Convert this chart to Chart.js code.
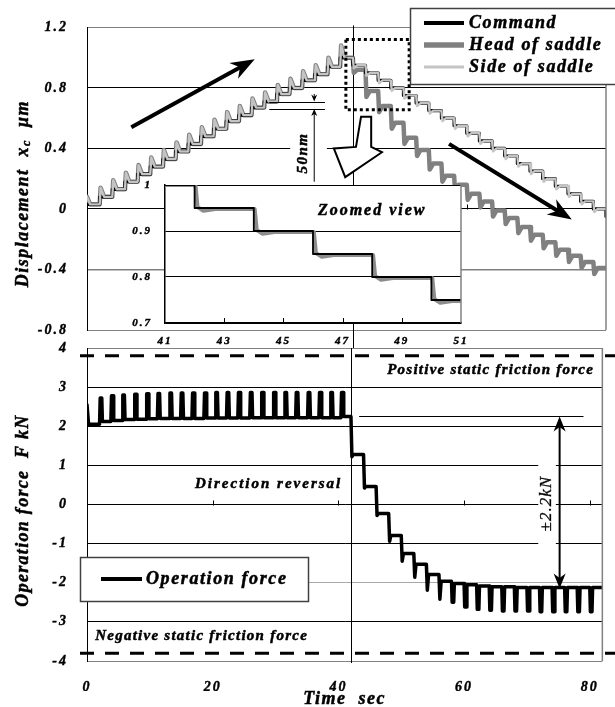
<!DOCTYPE html>
<html>
<head>
<meta charset="utf-8">
<script src="https://cdn.jsdelivr.net/npm/chart.js@4.4.0/dist/chart.umd.min.js"></script>
<style>
  html, body { margin: 0; padding: 0; background: #fff; }
  #wrap { position: relative; width: 615px; height: 707px; }
  #wrap canvas { position: absolute; left: 0; top: 0; }
</style>
</head>
<body>
<div id="wrap">
  <canvas id="disp_chart" width="615" height="707"></canvas>
  <canvas id="force_chart" width="615" height="707"></canvas>
  <canvas id="zoom_chart" width="615" height="707"></canvas>
</div>
<script>
/*-------- DATA --------*/

// top panel: displacement, one command step every 2 s
const step_times = [0,2,4,6,8,10,12,14,16,18,20,22,24,26,28,30,32,34,36,38,40,42,44,46,48,50,52,54,56,58,60,62,64,66,68,70,72,74,76,78,80,82];
const command_levels = [0.03,0.08,0.13,0.18,0.23,0.28,0.33,0.38,0.43,0.48,0.53,0.58,0.62,0.67,0.71,0.76,0.80,0.85,0.89,0.94,1.00,
  0.95,0.90,0.85,0.80,0.75,0.70,0.65,0.60,0.55,0.50,0.45,0.40,0.35,0.30,0.25,0.20,0.15,0.10,0.05,0.00,-0.05];
const head_levels = [0.03,0.08,0.13,0.18,0.23,0.28,0.33,0.38,0.43,0.48,0.53,0.58,0.62,0.67,0.71,0.76,0.80,0.85,0.89,0.94,1.00,
  0.92,0.78,0.68,0.57,0.47,0.39,0.30,0.22,0.16,0.10,0.05,-0.01,-0.06,-0.12,-0.17,-0.22,-0.27,-0.31,-0.35,-0.39,-0.43];
const head_peaks = [0.08,0.14,0.19,0.24,0.29,0.34,0.39,0.44,0.49,0.54,0.59,0.64,0.68,0.73,0.77,0.82,0.86,0.91,0.95,1.00,1.08,
  0.90,0.74,0.64,0.53,0.43,0.35,0.26,0.18,0.12,0.06,0.01,-0.05,-0.10,-0.16,-0.21,-0.26,-0.31,-0.35,-0.39,-0.43,-0.47];
const side_levels = [0.03,0.08,0.13,0.18,0.23,0.28,0.33,0.38,0.43,0.48,0.53,0.58,0.62,0.67,0.71,0.76,0.80,0.85,0.89,0.94,1.00,
  0.95,0.90,0.85,0.80,0.75,0.70,0.65,0.60,0.55,0.50,0.45,0.40,0.35,0.30,0.25,0.20,0.15,0.10,0.05,0.00,-0.05];
const side_peaks = [0.08,0.14,0.19,0.24,0.29,0.34,0.39,0.44,0.49,0.54,0.59,0.64,0.68,0.73,0.77,0.82,0.86,0.91,0.95,1.00,1.08,
  0.93,0.88,0.83,0.78,0.73,0.68,0.63,0.58,0.53,0.48,0.43,0.38,0.33,0.28,0.23,0.18,0.13,0.08,0.03,-0.02,-0.07];
const disp_ticks = [-0.8,-0.4,0,0.4,0.8,1.2];

// zoomed view
const zoom_times = [41,42,44,46,48,50,51];
const zoom_command = [1.00,0.95,0.90,0.85,0.80,0.75,0.75];
const zoom_side = [1.00,0.948,0.898,0.848,0.798,0.748,0.748];
const zoom_x_ticks = [41,43,45,47,49,51];
const zoom_y_ticks = [0.7,0.8,0.9,1];

// bottom panel: operation force
const push_times = [0,2.0,3.8,5.6,7.5,9.4,11.2,13.1,14.9,16.7,18.6,20.4,22.2,24.0,25.9,27.7,29.6,31.4,33.2,35.1,36.9,38.7,40.4];
const push_tops = [2.55,2.72,2.78,2.80,2.82,2.83,2.84,2.85,2.85,2.85,2.85,2.86,2.86,2.86,2.86,2.86,2.86,2.86,2.86,2.86,2.86,2.86,2.86];
const push_base = [2.05,2.12,2.15,2.17,2.18,2.19,2.20,2.20,2.20,2.20,2.21,2.21,2.21,2.21,2.22,2.22,2.22,2.22,2.22,2.22,2.22,2.22,2.25];
const ramp_times = [42,44,46,48,50,52,54,56];
const ramp_dips = [1.22,0.42,-0.28,-0.94,-1.45,-1.86,-2.19,-2.42];
const ramp_levels = [1.28,0.46,-0.23,-0.79,-1.25,-1.53,-1.79,-1.96];
const pull_times = [58,60,62,64,66,68,70,72,74,76,78,80,82];
const pull_bottoms = [-2.50,-2.62,-2.68,-2.70,-2.72,-2.72,-2.72,-2.74,-2.74,-2.74,-2.74,-2.74,-2.74];
const pull_base = [-2.02,-2.05,-2.08,-2.10,-2.10,-2.12,-2.12,-2.12,-2.12,-2.12,-2.12,-2.12,-2.12];
const force_ticks = [-4,-3,-2,-1,0,1,2,3,4];
const time_ticks = [0,20,40,60,80];

// annotations (data units)
const reversal_time = 42;
const static_friction = 3.8;
const force_band = [2.25, -2.15];

/*-------- styles --------*/
const serif_bi = (size) => `italic bold ${size}px "Liberation Serif", "Times New Roman", serif`;
const tick_font = { family: '"Liberation Serif", serif', style: 'italic', weight: 'bold', size: 14 };
const command_style = { color: '#000000', width: 3.2 };
const head_style = { color: '#808080', width: 4.5 };
const side_style = { color: '#c4c4c4', width: 2.4 };

/*-------- helpers --------*/
// staircase with the overshoot right after each step
function step_series(times, levels, peaks) {
  const pts = [{ x: times[0], y: peaks[0] }, { x: times[0] + 0.5, y: levels[0] }];
  for (let i = 1; i < times.length; i++) {
    pts.push({ x: times[i], y: levels[i - 1] });
    pts.push({ x: times[i] + 0.15, y: peaks[i] });
    pts.push({ x: times[i] + 0.7, y: levels[i] });
  }
  return pts;
}

function plain_steps(times, levels) {
  const pts = [{ x: times[0], y: levels[0] }];
  for (let i = 1; i < times.length; i++) {
    pts.push({ x: times[i], y: levels[i - 1] }, { x: times[i], y: levels[i] });
  }
  return pts;
}

function lag_steps(times, levels) {
  const pts = [{ x: times[0], y: levels[0] }];
  for (let i = 1; i < times.length - 1; i++) {
    pts.push({ x: times[i] + 0.03, y: levels[i - 1] });
    pts.push({ x: times[i] + 0.1, y: levels[i] + 0.004 });
    pts.push({ x: times[i] + 0.3, y: levels[i] - 0.004 });
    pts.push({ x: times[i] + 0.7, y: levels[i] });
  }
  pts.push({ x: times[times.length - 1], y: levels[levels.length - 1] });
  return pts;
}

function build_force() {
  const pts = [{ x: push_times[0], y: push_tops[0] }, { x: push_times[0] + 0.25, y: push_base[0] }];
  for (let i = 1; i < push_times.length; i++) {
    const t = push_times[i];
    pts.push({ x: t, y: push_base[i - 1] }, { x: t + 0.1, y: push_tops[i] },
             { x: t + 0.35, y: push_tops[i] }, { x: t + 0.45, y: push_base[i] });
  }
  let last = push_base[push_base.length - 1];
  ramp_times.forEach((t, i) => {
    pts.push({ x: t, y: last }, { x: t + 0.15, y: ramp_dips[i] }, { x: t + 0.35, y: ramp_levels[i] });
    last = ramp_levels[i];
  });
  pull_times.forEach((t, i) => {
    pts.push({ x: t, y: last }, { x: t + 0.1, y: pull_bottoms[i] },
             { x: t + 0.35, y: pull_bottoms[i] }, { x: t + 0.45, y: pull_base[i] });
    last = pull_base[i];
  });
  return pts;
}

// text with a thin outline so it reads as heavy as the scanned original
function text_at(ctx, text, x, y, font, align, spacing, rotate, weight) {
  ctx.save();
  ctx.font = font;
  ctx.letterSpacing = spacing || '0px';
  ctx.fillStyle = '#000';
  ctx.strokeStyle = '#000';
  ctx.lineWidth = weight === undefined ? 0.5 : weight;
  ctx.textAlign = align || 'left';
  ctx.textBaseline = 'middle';
  if (rotate) {
    ctx.translate(x, y);
    ctx.rotate(-Math.PI / 2);
    x = 0; y = 0;
  }
  ctx.fillText(text, x, y);
  if (ctx.lineWidth > 0) ctx.strokeText(text, x, y);
  ctx.restore();
}

function arrow_head(ctx, x1, y1, x2, y2, len, half) {
  const a = Math.atan2(y2 - y1, x2 - x1), c = Math.cos(a), s = Math.sin(a);
  ctx.beginPath();
  ctx.moveTo(x2, y2);
  ctx.lineTo(x2 - len * c + half * s, y2 - len * s - half * c);
  ctx.lineTo(x2 - len * 0.7 * c, y2 - len * 0.7 * s);
  ctx.lineTo(x2 - len * c - half * s, y2 - len * s + half * c);
  ctx.closePath();
  ctx.fill();
}

function arrow(ctx, x1, y1, x2, y2, lw, len, half, both) {
  const a = Math.atan2(y2 - y1, x2 - x1), c = Math.cos(a), s = Math.sin(a);
  ctx.save();
  ctx.strokeStyle = '#000';
  ctx.fillStyle = '#000';
  ctx.lineWidth = lw;
  ctx.beginPath();
  ctx.moveTo(both ? x1 + len * 0.6 * c : x1, both ? y1 + len * 0.6 * s : y1);
  ctx.lineTo(x2 - len * 0.6 * c, y2 - len * 0.6 * s);
  ctx.stroke();
  arrow_head(ctx, x1, y1, x2, y2, len, half);
  if (both) arrow_head(ctx, x2, y2, x1, y1, len, half);
  ctx.restore();
}

function axis_ticks(ctx, xs, ys, values) {
  const y0 = Math.round(ys.getPixelForValue(0)) + 0.5;
  ctx.save();
  ctx.strokeStyle = '#000';
  ctx.lineWidth = 1;
  values.forEach((v) => {
    if (v === 0) return;
    const px = Math.round(xs.getPixelForValue(v)) + 0.5;
    ctx.beginPath(); ctx.moveTo(px, y0); ctx.lineTo(px, y0 - 5); ctx.stroke();
  });
  ctx.restore();
}

function right_border(ctx, a, top) {
  ctx.save();
  ctx.strokeStyle = '#808080';
  ctx.lineWidth = 1.5;
  ctx.beginPath(); ctx.moveTo(a.right, top); ctx.lineTo(a.right, a.bottom); ctx.stroke();
  ctx.restore();
}

const tick_opts = (size, pad) => ({
  padding: pad, color: '#000', font: { ...tick_font, size: size },
  textStrokeColor: '#000', textStrokeWidth: 0.4, maxRotation: 0
});

/*-------- TOP: displacement --------*/
const disp_deco = {
  id: 'disp_deco',
  beforeDraw(chart) { chart.ctx.letterSpacing = '2px'; },
  beforeDatasetsDraw(chart) {
    const { ctx, chartArea: a, scales: { x, y } } = chart;
    ctx.save();
    // white patch behind the 50nm label
    ctx.fillStyle = '#fff';
    const p1 = x.getPixelForValue(32.1), p2 = x.getPixelForValue(37.9);
    ctx.fillRect(p1, y.getPixelForValue(0.44), p2 - p1, 14);
    // direction reversal line
    const rx = Math.round(x.getPixelForValue(reversal_time)) + 0.5;
    ctx.strokeStyle = '#000';
    ctx.lineWidth = 1;
    ctx.beginPath(); ctx.moveTo(rx, a.top - 2); ctx.lineTo(rx, a.bottom + 18); ctx.stroke();
    ctx.restore();
    axis_ticks(ctx, x, y, time_ticks);
  },
  afterDraw(chart) {
    const { ctx, chartArea: a, scales: { x, y } } = chart;
    const X = (v) => x.getPixelForValue(v), Y = (v) => y.getPixelForValue(v);
    right_border(ctx, a, a.top);

    // dotted box around the reversal
    ctx.save();
    ctx.strokeStyle = '#000';
    ctx.lineWidth = 3;
    ctx.setLineDash([3, 3]);
    ctx.strokeRect(X(40.9), Y(1.12), X(50.9) - X(40.9), Y(0.655) - Y(1.12));
    ctx.setLineDash([]);

    // hollow arrow down to the zoomed view
    const hollow = [[43.3, 0.61], [44.9, 0.61], [44.9, 0.41], [46.6, 0.375], [40.8, 0.21], [39.0, 0.40], [42.5, 0.41]];
    ctx.beginPath();
    hollow.forEach((p, i) => (i ? ctx.lineTo(X(p[0]), Y(p[1])) : ctx.moveTo(X(p[0]), Y(p[1]))));
    ctx.closePath();
    ctx.fillStyle = '#fff';
    ctx.fill();
    ctx.lineWidth = 2;
    ctx.lineJoin = 'miter';
    ctx.stroke();

    // 50nm marker
    ctx.lineWidth = 1;
    [0.71, 0.66].forEach((v) => {
      const py = Math.round(Y(v)) + 0.5;
      ctx.beginPath(); ctx.moveTo(X(28.8), py); ctx.lineTo(X(37.6), py); ctx.stroke();
    });
    ctx.restore();
    arrow(ctx, X(35.9), Y(0.76), X(35.9), Y(0.71), 1, 7, 3);
    arrow(ctx, X(35.9), Y(0.18), X(35.9), Y(0.66), 1, 7, 3);
    text_at(ctx, '50nm', X(34.2), Y(0.37), serif_bi(15), 'center', '1.5px', true);

    // motion arrows
    arrow(ctx, X(7.0), Y(0.54), X(26.5), Y(0.99), 4, 24, 9);
    arrow(ctx, X(57.2), Y(0.43), X(76.6), Y(-0.07), 4, 24, 9);

    // y title with subscript
    ctx.save();
    ctx.translate(23, (a.top + a.bottom) / 2 + 15);
    ctx.rotate(-Math.PI / 2);
    ctx.letterSpacing = '1.5px';
    ctx.textBaseline = 'middle';
    ctx.fillStyle = '#000';
    ctx.strokeStyle = '#000';
    ctx.lineWidth = 0.5;
    const parts = [['Displacement  x', serif_bi(18), 0], ['c', serif_bi(12), 4], ['  \u03bcm', serif_bi(18), 0]];
    let w = 0;
    parts.forEach((p) => { ctx.font = p[1]; w += ctx.measureText(p[0]).width; });
    let px = -w / 2;
    parts.forEach((p) => {
      ctx.font = p[1];
      ctx.fillText(p[0], px, p[2]);
      ctx.strokeText(p[0], px, p[2]);
      px += ctx.measureText(p[0]).width;
    });
    ctx.restore();

    // legend
    const items = [['Command', command_style], ['Head of saddle', head_style], ['Side of saddle', side_style]];
    ctx.save();
    ctx.fillStyle = '#fff';
    ctx.fillRect(410, 8, 210, 76);
    ctx.strokeStyle = '#404040';
    ctx.lineWidth = 1.5;
    ctx.strokeRect(410.5, 8.5, 210, 76);
    items.forEach((it, i) => {
      const ly = 23 + i * 22;
      ctx.strokeStyle = it[1].color;
      ctx.lineWidth = it[1].width + 0.8;
      ctx.beginPath(); ctx.moveTo(424, ly); ctx.lineTo(464, ly); ctx.stroke();
      text_at(ctx, it[0], 469, ly, serif_bi(18), 'left', '1.6px');
    });
    ctx.restore();
  }
};

new Chart(document.getElementById('disp_chart'), {
  type: 'line',
  data: {
    datasets: [
      { label: 'Side of saddle', data: step_series(step_times, side_levels, side_peaks),
        borderColor: side_style.color, borderWidth: side_style.width, order: 0 },
      { label: 'Command', data: plain_steps(step_times, command_levels),
        borderColor: command_style.color, borderWidth: command_style.width, order: 1 },
      { label: 'Head of saddle', data: step_series(step_times, head_levels, head_peaks),
        borderColor: head_style.color, borderWidth: head_style.width, order: 2 }
    ]
  },
  options: {
    responsive: false,
    animation: false,
    elements: { point: { radius: 0 }, line: { tension: 0, borderJoinStyle: 'round', borderCapStyle: 'round' } },
    layout: { padding: { left: 0, top: 26, right: 9, bottom: 377 } },
    plugins: { legend: { display: false }, tooltip: { enabled: false } },
    scales: {
      x: { type: 'linear', min: 0, max: 82, display: false },
      y: {
        min: -0.8, max: 1.2,
        afterFit: (s) => { s.width = 87; },
        afterBuildTicks: (s) => { s.ticks = disp_ticks.map((v) => ({ value: v })); },
        grid: {
          drawTicks: false,
          color: (c) => ([1.2, -0.8, -0.4].includes(c.tick.value) ? '#808080' : '#000'),
          lineWidth: (c) => (c.tick.value === -0.4 ? 1.5 : 1)
        },
        border: { color: '#000', width: 1 },
        ticks: { ...tick_opts(14, 19), callback: (v) => String(v) }
      }
    }
  },
  plugins: [disp_deco]
});

/*-------- BOTTOM: operation force --------*/
const force_deco = {
  id: 'force_deco',
  beforeDraw(chart) { chart.ctx.letterSpacing = '2px'; },
  beforeDatasetsDraw(chart) {
    const { ctx, chartArea: a, scales: { x, y } } = chart;
    const X = (v) => x.getPixelForValue(v), Y = (v) => y.getPixelForValue(v);
    ctx.save();
    // white patch behind the +-2.2kN label
    ctx.fillStyle = '#fff';
    ctx.fillRect(X(71.8), Y(1.2), X(74.6) - X(71.8), Y(-1.12) - Y(1.2));
    const rx = Math.round(X(reversal_time)) + 0.5;
    ctx.strokeStyle = '#000';
    ctx.lineWidth = 1;
    ctx.beginPath(); ctx.moveTo(rx, a.top); ctx.lineTo(rx, a.bottom + 2); ctx.stroke();
    // reference level line
    const ly = Math.round(Y(force_band[0])) + 0.5;
    ctx.beginPath(); ctx.moveTo(X(43.3), ly); ctx.lineTo(X(79), ly); ctx.stroke();
    ctx.restore();
    axis_ticks(ctx, x, y, time_ticks);
  },
  afterDraw(chart) {
    const { ctx, chartArea: a, scales: { x, y } } = chart;
    const X = (v) => x.getPixelForValue(v), Y = (v) => y.getPixelForValue(v);
    right_border(ctx, a, a.top);

    // static friction limits
    ctx.save();
    ctx.strokeStyle = '#000';
    ctx.lineWidth = 3;
    ctx.setLineDash([14, 11]);
    [static_friction, -static_friction].forEach((v) => {
      ctx.beginPath(); ctx.moveTo(a.left - 7, Y(v)); ctx.lineTo(chart.width, Y(v)); ctx.stroke();
    });
    ctx.restore();

    text_at(ctx, 'Positive static friction force', X(80.7), Y(3.43), serif_bi(15), 'right', '1.25px');
    text_at(ctx, 'Negative static friction force', X(1.3), Y(-3.36), serif_bi(15), 'left', '1.25px');
    text_at(ctx, 'Direction reversal', X(28.9), Y(0.52), serif_bi(15), 'center', '2px');

    arrow(ctx, X(75.2), Y(force_band[0]), X(75.2), Y(force_band[1]), 2, 15, 6, true);
    text_at(ctx, '\u00b12.2kN', X(73.1), Y(0.02), `italic 17px "Liberation Serif", serif`, 'center', '1px', true, 0.3);

    // legend
    ctx.save();
    ctx.fillStyle = '#fff';
    ctx.fillRect(80, 557, 228, 44);
    ctx.strokeStyle = '#404040';
    ctx.lineWidth = 1.5;
    ctx.strokeRect(80.5, 557.5, 228, 44);
    ctx.strokeStyle = '#000';
    ctx.lineWidth = 4;
    ctx.beginPath(); ctx.moveTo(101, 579); ctx.lineTo(142, 579); ctx.stroke();
    ctx.restore();
    text_at(ctx, 'Operation force', 146, 579, serif_bi(18), 'left', '1.6px');

    // axis titles
    text_at(ctx, 'Operation force  F kN', 23, (a.top + a.bottom) / 2 + 6, serif_bi(18), 'center', '1.3px', true);
    text_at(ctx, 'Time  sec', X(41), 699, serif_bi(18), 'center', '1.5px');
  }
};

new Chart(document.getElementById('force_chart'), {
  type: 'line',
  data: {
    datasets: [
      { label: 'Operation force', data: build_force(), borderColor: '#000', borderWidth: 3.5 }
    ]
  },
  options: {
    responsive: false,
    animation: false,
    elements: { point: { radius: 0 }, line: { tension: 0, borderJoinStyle: 'round', borderCapStyle: 'round' } },
    layout: { padding: { left: 0, top: 348, right: 9, bottom: 16 } },
    plugins: { legend: { display: false }, tooltip: { enabled: false } },
    scales: {
      x: {
        type: 'linear', min: 0, max: 82,
        afterFit: (s) => { s.height = 30; },
        afterBuildTicks: (s) => { s.ticks = time_ticks.map((v) => ({ value: v })); },
        grid: { drawOnChartArea: false, drawTicks: false },
        border: { display: false },
        ticks: tick_opts(14, 18)
      },
      y: {
        min: -4, max: 4,
        afterFit: (s) => { s.width = 87; },
        afterBuildTicks: (s) => { s.ticks = force_ticks.map((v) => ({ value: v })); },
        grid: {
          drawTicks: false,
          color: (c) => {
            const v = c.tick.value;
            if (v === 4 || v === -4) return '#808080';
            if (v === -2) return '#a8a8a8';
            return '#000';
          }
        },
        border: { color: '#000', width: 1 },
        ticks: tick_opts(14, 19)
      }
    }
  },
  plugins: [force_deco]
});

/*-------- INSET: zoomed view --------*/
const zoom_deco = {
  id: 'zoom_deco',
  beforeDraw(chart) {
    const { ctx, chartArea: a } = chart;
    ctx.letterSpacing = '2px';
    ctx.save();
    ctx.fillStyle = '#fff';
    ctx.fillRect(a.left, a.top, a.right - a.left, a.bottom - a.top);
    ctx.restore();
  },
  afterDraw(chart) {
    const { ctx, chartArea: a, scales: { x, y } } = chart;
    right_border(ctx, a, a.top);
    ctx.save();
    ctx.strokeStyle = '#000';
    ctx.lineWidth = 1;
    zoom_x_ticks.slice(1, -1).forEach((v) => {
      const px = Math.round(x.getPixelForValue(v)) + 0.5;
      ctx.beginPath(); ctx.moveTo(px, a.bottom); ctx.lineTo(px, a.bottom - 5); ctx.stroke();
    });
    ctx.restore();
    text_at(ctx, 'Zoomed view', x.getPixelForValue(48.0), y.getPixelForValue(0.943), serif_bi(16), 'center', '2px');
  }
};

new Chart(document.getElementById('zoom_chart'), {
  type: 'line',
  data: {
    datasets: [
      { label: 'Command', data: plain_steps(zoom_times, zoom_command),
        borderColor: command_style.color, borderWidth: 1.8, order: 0 },
      { label: 'Side of saddle', data: lag_steps(zoom_times, zoom_side),
        borderColor: '#8c8c8c', borderWidth: 4, order: 1 }
    ]
  },
  options: {
    responsive: false,
    animation: false,
    elements: { point: { radius: 0 }, line: { tension: 0, borderJoinStyle: 'round', borderCapStyle: 'butt' } },
    layout: { padding: { left: 0, top: 185, right: 154, bottom: 354 } },
    plugins: { legend: { display: false }, tooltip: { enabled: false } },
    scales: {
      x: {
        type: 'linear', min: 41, max: 51,
        afterFit: (s) => { s.height = 30; },
        afterBuildTicks: (s) => { s.ticks = zoom_x_ticks.map((v) => ({ value: v })); },
        grid: { drawOnChartArea: false, drawTicks: false },
        border: { color: '#000', width: 1.5 },
        ticks: tick_opts(11, 12)
      },
      y: {
        min: 0.7, max: 1.0,
        afterFit: (s) => { s.width = 165; },
        afterBuildTicks: (s) => { s.ticks = zoom_y_ticks.map((v) => ({ value: v })); },
        grid: { drawTicks: false, color: '#000' },
        border: { color: '#000', width: 1.5 },
        ticks: { ...tick_opts(11, 13), callback: (v) => String(v) }
      }
    }
  },
  plugins: [zoom_deco]
});
</script>
</body>
</html>
